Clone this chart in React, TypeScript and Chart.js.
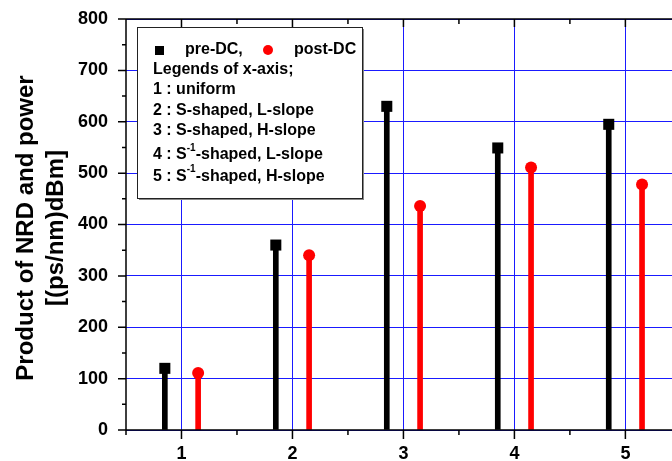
import React, { useEffect, useRef } from "react";
import { Chart, registerables } from "chart.js";

Chart.register(...registerables);

const PRE_X = [0.85, 1.85, 2.85, 3.85, 4.85];
const POST_X = [1.15, 2.15, 3.15, 4.15, 5.15];
const PRE_DC = [120, 360, 630, 549, 595];
const POST_DC = [111, 340, 436, 511, 478];
const X_TICKS = [1, 2, 3, 4, 5];
const X_MINOR = [0.5, 1.5, 2.5, 3.5, 4.5, 5.5];
const Y_TICKS = [0, 100, 200, 300, 400, 500, 600, 700, 800];
const Y_MINOR = [50, 150, 250, 350, 450, 550, 650, 750];
const Y_TITLE = ["Product of NRD and power", "[(ps/nm)dBm]"];
const LEGEND_SERIES = ["pre-DC,", "post-DC"];
const LEGEND_LINES: [string, string, string][] = [
  ["Legends of x-axis;", "", ""],
  ["1 : uniform", "", ""],
  ["2 : S-shaped, L-slope", "", ""],
  ["3 : S-shaped, H-slope", "", ""],
  ["4 : S", "-1", "-shaped, L-slope"],
  ["5 : S", "-1", "-shaped, H-slope"],
];

const FONT = "'Liberation Sans', Arial, sans-serif";

const decor = {
  id: "decor",
  afterDraw(chart: any) {
    const { ctx, chartArea: a } = chart;
    const x = chart.scales.x;
    const y = chart.scales.y;
    ctx.save();
    ctx.strokeStyle = "#000";
    ctx.lineWidth = 1.5;
    ctx.beginPath();
    ctx.moveTo(a.left, a.top);
    ctx.lineTo(a.left, a.bottom);
    ctx.lineTo(a.right, a.bottom);
    ctx.moveTo(a.left, a.top);
    ctx.lineTo(a.right, a.top);
    Y_TICKS.forEach((v) => {
      const p = y.getPixelForValue(v);
      ctx.moveTo(a.left, p);
      ctx.lineTo(a.left - 8, p);
    });
    Y_MINOR.forEach((v) => {
      const p = y.getPixelForValue(v);
      ctx.moveTo(a.left, p);
      ctx.lineTo(a.left - 4, p);
    });
    X_TICKS.forEach((v) => {
      const p = x.getPixelForValue(v);
      ctx.moveTo(p, a.bottom);
      ctx.lineTo(p, a.bottom + 9);
      ctx.moveTo(p, a.top);
      ctx.lineTo(p, a.top + 8);
    });
    X_MINOR.forEach((v) => {
      const p = x.getPixelForValue(v);
      ctx.moveTo(p, a.bottom);
      ctx.lineTo(p, a.bottom + 5);
      ctx.moveTo(p, a.top);
      ctx.lineTo(p, a.top + 5);
    });
    ctx.stroke();

    // y title
    ctx.fillStyle = "#000";
    ctx.font = `bold 24px ${FONT}`;
    ctx.textAlign = "center";
    ctx.textBaseline = "middle";
    const cy = 228;
    [26, 56].forEach((cx, i) => {
      ctx.save();
      ctx.translate(cx, cy);
      ctx.rotate(-Math.PI / 2);
      ctx.fillText(Y_TITLE[i], 0, 0);
      ctx.restore();
    });

    // legend box
    const bx = 137, by = 27, bw = 225, bh = 171;
    ctx.fillStyle = "#888";
    ctx.fillRect(bx + 2, by + 2, bw, bh);
    ctx.fillStyle = "#fff";
    ctx.fillRect(bx, by, bw, bh);
    ctx.strokeStyle = "#222";
    ctx.lineWidth = 1;
    ctx.strokeRect(bx + 0.5, by + 0.5, bw, bh);

    ctx.fillStyle = "#000";
    ctx.fillRect(155, 46, 9, 9);
    ctx.fillStyle = "#ff0000";
    ctx.beginPath();
    ctx.arc(268, 50, 5, 0, Math.PI * 2);
    ctx.fill();

    ctx.fillStyle = "#000";
    ctx.textAlign = "left";
    ctx.textBaseline = "middle";
    ctx.font = `bold 16px ${FONT}`;
    ctx.fillText(LEGEND_SERIES[0], 185, 50);
    ctx.fillText(LEGEND_SERIES[1], 294, 50);
    const rows = [70, 90, 110.5, 130.5, 155, 176.5];
    LEGEND_LINES.forEach((ln, i) => {
      const yy = rows[i];
      ctx.font = `bold 16px ${FONT}`;
      let xx = 153;
      ctx.fillText(ln[0], xx, yy);
      xx += ctx.measureText(ln[0]).width;
      if (ln[1]) {
        ctx.font = `bold 10px ${FONT}`;
        ctx.fillText(ln[1], xx, yy - 7);
        xx += ctx.measureText(ln[1]).width;
        ctx.font = `bold 16px ${FONT}`;
        ctx.fillText(ln[2], xx, yy);
      }
    });
    ctx.restore();
  },
};

export default function App() {
  const ref = useRef<HTMLCanvasElement>(null);
  useEffect(() => {
    document.body.style.margin = "0";
    const ctx = ref.current!.getContext("2d")!;
    const chart = new Chart(ctx, {
      type: "bar",
      data: {
        datasets: [
          {
            type: "bar",
            data: PRE_X.map((x, i) => ({ x, y: PRE_DC[i] })),
            backgroundColor: "#000",
            barThickness: 5,
            grouped: false,
            order: 2,
          } as any,
          {
            type: "bar",
            data: POST_X.map((x, i) => ({ x, y: POST_DC[i] })),
            backgroundColor: "#ff0000",
            barThickness: 5,
            grouped: false,
            order: 2,
          } as any,
          {
            type: "scatter",
            data: PRE_X.map((x, i) => ({ x, y: PRE_DC[i] })),
            pointStyle: "rect",
            pointRadius: 7.8,
            pointBackgroundColor: "#000",
            pointBorderWidth: 0,
            order: 1,
          } as any,
          {
            type: "scatter",
            data: POST_X.map((x, i) => ({ x, y: POST_DC[i] })),
            pointStyle: "circle",
            pointRadius: 6,
            pointBackgroundColor: "#ff0000",
            pointBorderWidth: 0,
            order: 1,
          } as any,
        ],
      },
      options: {
        animation: false,
        responsive: false,
        layout: { autoPadding: false, padding: { top: 19, left: 0, right: 0, bottom: 0 } },
        plugins: { legend: { display: false }, tooltip: { enabled: false } },
        scales: {
          x: {
            type: "linear",
            min: 0.5,
            max: 5.42,
            offset: false,
            afterFit: (s: any) => {
              s.height = 31;
              s.paddingLeft = 0;
              s.paddingRight = 0;
              s.paddingTop = 0;
              s.paddingBottom = 0;
            },
            afterBuildTicks: (s: any) => {
              s.ticks = X_TICKS.map((v) => ({ value: v }));
            },
            grid: { color: "#1a1aff", lineWidth: 1, drawTicks: false, offset: false },
            border: { display: false },
            ticks: {
              padding: 13,
              color: "#000",
              font: { family: FONT, weight: "bold", size: 18 },
              callback: (v: any) => String(v),
            },
          },
          y: {
            type: "linear",
            min: 0,
            max: 800,
            afterFit: (s: any) => {
              s.width = 126;
              s.paddingLeft = 0;
              s.paddingRight = 0;
              s.paddingTop = 0;
              s.paddingBottom = 0;
            },
            afterBuildTicks: (s: any) => {
              s.ticks = Y_TICKS.map((v) => ({ value: v }));
            },
            grid: { color: "#1a1aff", lineWidth: 1, drawTicks: false },
            border: { display: false },
            ticks: {
              padding: 18,
              color: "#000",
              font: { family: FONT, weight: "bold", size: 18 },
              callback: (v: any) => String(v),
            },
          },
        },
      },
      plugins: [decor],
    });
    return () => chart.destroy();
  }, []);
  return <canvas ref={ref} width={672} height={461} style={{ display: "block" }} />;
}
